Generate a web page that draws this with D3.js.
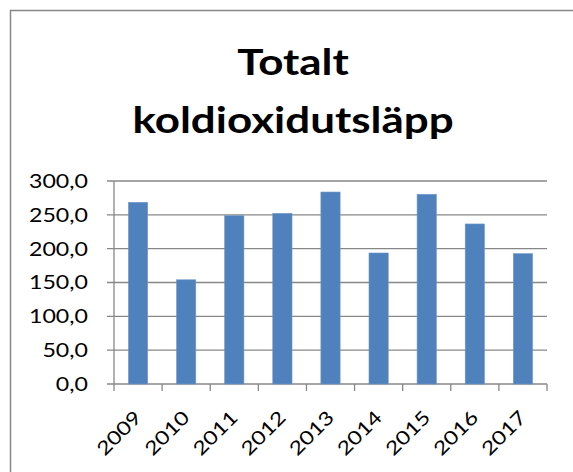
<!DOCTYPE html>
<html>
<head>
<meta charset="utf-8">
<script src="https://cdn.jsdelivr.net/npm/d3@7"></script>
<style>
  body { margin: 0; background: #fff; }
  svg { display: block; }
</style>
</head>
<body>
<script>
// data
const years = ["2009", "2010", "2011", "2012", "2013", "2014", "2015", "2016", "2017"];
const utslapp = [268.5, 154, 248.7, 252.2, 283.7, 193.6, 280.3, 236.5, 192.6];
const yTicks = [0, 50, 100, 150, 200, 250, 300];
const titleLines = ["Totalt", "koldioxidutsläpp"];

const width = 573;
const height = 472;
const font = "Lato, 'Open Sans', sans-serif";
const stretch = 1.22; // the original picture is a bit wider than tall

const svg = d3.select("body")
  .append("svg")
  .attr("width", width)
  .attr("height", height);

// chart frame (runs off the right and bottom edge)
svg.append("rect")
  .attr("x", 10.5)
  .attr("y", 10.5)
  .attr("width", width)
  .attr("height", height)
  .attr("fill", "none")
  .attr("stroke", "#878787")
  .attr("stroke-width", 1.5);

// title
svg.append("g")
  .selectAll("text")
  .data(titleLines)
  .enter()
  .append("text")
  .attr("transform", (d, i) => `translate(293,${75 + i * 58}) scale(${stretch},1)`)
  .attr("text-anchor", "middle")
  .attr("font-family", font)
  .attr("font-weight", "bold")
  .attr("font-size", 36)
  .attr("fill", "#000")
  .text(d => d);

const plot = { left: 114, right: 547, top: 181, bottom: 384 };

const x = d3.scaleBand()
  .domain(years)
  .range([plot.left, plot.right])
  .paddingInner(0.6)
  .paddingOuter(0.3);

const y = d3.scaleLinear()
  .domain([0, 300])
  .range([plot.bottom, plot.top]);

// gridlines
svg.append("g")
  .selectAll("line")
  .data(yTicks)
  .enter()
  .append("line")
  .attr("x1", plot.left - 7)
  .attr("x2", plot.right)
  .attr("y1", d => y(d))
  .attr("y2", d => y(d))
  .attr("stroke", "#878787")
  .attr("stroke-width", 1.3);

// y labels
svg.append("g")
  .selectAll("text")
  .data(yTicks)
  .enter()
  .append("text")
  .attr("transform", d => `translate(88,${y(d)}) scale(${stretch},1)`)
  .attr("dy", "0.36em")
  .attr("text-anchor", "end")
  .attr("font-family", font)
  .attr("font-size", 19)
  .attr("fill", "#000")
  .text(d => d3.format(".1f")(d).replace(".", ","));

// bars
svg.append("g")
  .selectAll("rect")
  .data(utslapp)
  .enter()
  .append("rect")
  .attr("x", (d, i) => x(years[i]))
  .attr("y", d => y(d))
  .attr("width", x.bandwidth())
  .attr("height", d => y(0) - y(d))
  .attr("fill", "#4F81BD")
  .attr("stroke", "#6f97c8")
  .attr("stroke-width", 0.6);

// y axis line
svg.append("line")
  .attr("x1", plot.left)
  .attr("x2", plot.left)
  .attr("y1", plot.top)
  .attr("y2", plot.bottom)
  .attr("stroke", "#878787")
  .attr("stroke-width", 1.3);

// x axis ticks at category boundaries
const step = (plot.right - plot.left) / years.length;
svg.append("g")
  .selectAll("line")
  .data(d3.range(years.length + 1))
  .enter()
  .append("line")
  .attr("x1", d => plot.left + d * step)
  .attr("x2", d => plot.left + d * step)
  .attr("y1", plot.bottom)
  .attr("y2", plot.bottom + 7)
  .attr("stroke", "#878787")
  .attr("stroke-width", 1.3);

// x labels, rotated
svg.append("g")
  .selectAll("text")
  .data(years)
  .enter()
  .append("text")
  .attr("transform", d => `translate(${x(d) + x.bandwidth() / 2 - 5},${plot.bottom + 25}) rotate(-45) scale(${stretch},1)`)
  .attr("text-anchor", "end")
  .attr("dy", "0.72em")
  .attr("font-family", font)
  .attr("font-size", 19)
  .attr("fill", "#000")
  .text(d => d);
</script>
</body>
</html>
